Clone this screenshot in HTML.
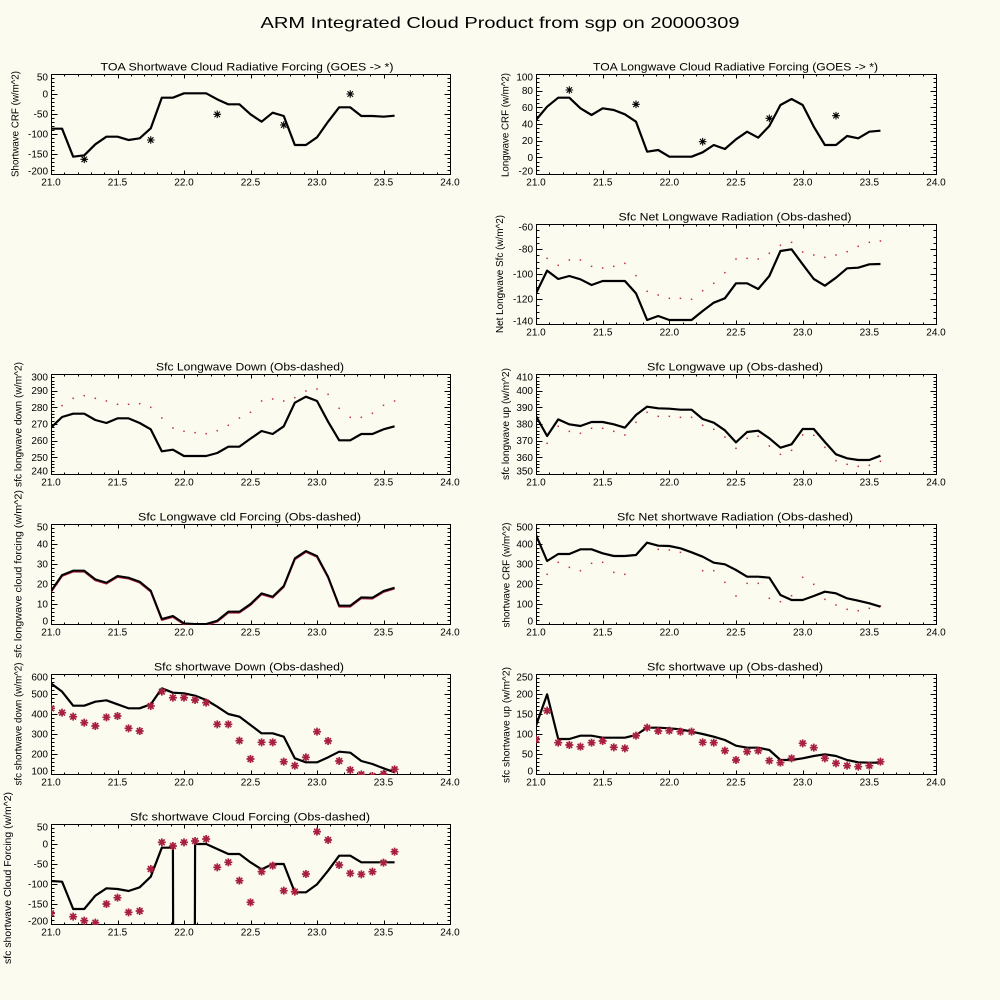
<!DOCTYPE html>
<html><head><meta charset="utf-8">
<style>
html,body{margin:0;padding:0;background:#fbfbf0;width:1000px;height:1000px;overflow:hidden;}
svg{display:block;overflow:hidden;}
text{font-family:"Liberation Sans","DejaVu Sans",sans-serif;fill:#000;}
.t{font-size:11px;text-anchor:middle;}
.xl text{font-size:10px;text-anchor:middle;}
.yl text{font-size:10px;text-anchor:end;}
.yt{font-size:10px;text-anchor:middle;}
</style></head><body>
<svg id="s" width="1000" height="1000" viewBox="0 0 1000 1000" xmlns="http://www.w3.org/2000/svg">
<rect width="1000" height="1000" fill="#fbfbf0"/>
<text x="500" y="28" font-size="16" text-anchor="middle" textLength="479" lengthAdjust="spacingAndGlyphs">ARM Integrated Cloud Product from sgp on 20000309</text>

<!-- panel titles -->
<text class="t" x="247" y="70.5" textLength="293" lengthAdjust="spacingAndGlyphs">TOA Shortwave Cloud Radiative Forcing (GOES -&gt; *)</text>
<text class="t" x="735.5" y="70.5" textLength="285" lengthAdjust="spacingAndGlyphs">TOA Longwave Cloud Radiative Forcing (GOES -&gt; *)</text>
<text class="t" x="735" y="220.5" textLength="233" lengthAdjust="spacingAndGlyphs">Sfc Net Longwave Radiation (Obs-dashed)</text>
<text class="t" x="250" y="370.5" textLength="188" lengthAdjust="spacingAndGlyphs">Sfc Longwave Down (Obs-dashed)</text>
<text class="t" x="735" y="370.5" textLength="176" lengthAdjust="spacingAndGlyphs">Sfc Longwave up (Obs-dashed)</text>
<text class="t" x="249.5" y="520.5" textLength="223" lengthAdjust="spacingAndGlyphs">Sfc Longwave cld Forcing (Obs-dashed)</text>
<text class="t" x="735" y="520.5" textLength="236" lengthAdjust="spacingAndGlyphs">Sfc Net shortwave Radiation (Obs-dashed)</text>
<text class="t" x="249" y="670.5" textLength="190" lengthAdjust="spacingAndGlyphs">Sfc shortwave Down (Obs-dashed)</text>
<text class="t" x="735" y="670.5" textLength="176" lengthAdjust="spacingAndGlyphs">Sfc shortwave up (Obs-dashed)</text>
<text class="t" x="250" y="820.5" textLength="240" lengthAdjust="spacingAndGlyphs">Sfc shortwave Cloud Forcing (Obs-dashed)</text>

<!-- y axis titles -->
<text class="yt" transform="translate(18.5,124) rotate(-90)" textLength="106" lengthAdjust="spacingAndGlyphs">Shortwave CRF (w/m^2)</text>
<text class="yt" transform="translate(508.5,125) rotate(-90)" textLength="104" lengthAdjust="spacingAndGlyphs">Longwave CRF (w/m^2)</text>
<text class="yt" transform="translate(503,274) rotate(-90)" textLength="118" lengthAdjust="spacingAndGlyphs">Net Longwave Sfc (w/m^2)</text>
<text class="yt" transform="translate(21.5,424.5) rotate(-90)" textLength="125" lengthAdjust="spacingAndGlyphs">sfc longwave down (w/m^2)</text>
<text class="yt" transform="translate(509,424) rotate(-90)" textLength="112" lengthAdjust="spacingAndGlyphs">sfc longwave up (w/m^2)</text>
<text class="yt" transform="translate(21.5,574) rotate(-90)" textLength="168" lengthAdjust="spacingAndGlyphs">sfc longwave cloud forcing (w/m^2)</text>
<text class="yt" transform="translate(509.5,575) rotate(-90)" textLength="105" lengthAdjust="spacingAndGlyphs">shortwave CRF (w/m^2)</text>
<text class="yt" transform="translate(21.5,724) rotate(-90)" textLength="123" lengthAdjust="spacingAndGlyphs">sfc shortwave down (w/m^2)</text>
<text class="yt" transform="translate(509.5,725) rotate(-90)" textLength="116" lengthAdjust="spacingAndGlyphs">sfc shortwave up (w/m^2)</text>
<text class="yt" transform="translate(11,878) rotate(-90)" textLength="172" lengthAdjust="spacingAndGlyphs">sfc shortwave Cloud Forcing (w/m^2)</text>

<!-- x tick labels left column -->
<g class="xl">
<text x="51" y="185.5">21.0</text><text x="117.5" y="185.5">21.5</text><text x="184" y="185.5">22.0</text><text x="250.5" y="185.5">22.5</text><text x="317" y="185.5">23.0</text><text x="383.5" y="185.5">23.5</text><text x="450" y="185.5">24.0</text>
</g>
<g class="xl" transform="translate(0,300)">
<text x="51" y="185.5">21.0</text><text x="117.5" y="185.5">21.5</text><text x="184" y="185.5">22.0</text><text x="250.5" y="185.5">22.5</text><text x="317" y="185.5">23.0</text><text x="383.5" y="185.5">23.5</text><text x="450" y="185.5">24.0</text>
</g>
<g class="xl" transform="translate(0,450)">
<text x="51" y="185.5">21.0</text><text x="117.5" y="185.5">21.5</text><text x="184" y="185.5">22.0</text><text x="250.5" y="185.5">22.5</text><text x="317" y="185.5">23.0</text><text x="383.5" y="185.5">23.5</text><text x="450" y="185.5">24.0</text>
</g>
<g class="xl" transform="translate(0,600)">
<text x="51" y="185.5">21.0</text><text x="117.5" y="185.5">21.5</text><text x="184" y="185.5">22.0</text><text x="250.5" y="185.5">22.5</text><text x="317" y="185.5">23.0</text><text x="383.5" y="185.5">23.5</text><text x="450" y="185.5">24.0</text>
</g>
<g class="xl" transform="translate(0,750)">
<text x="51" y="185.5">21.0</text><text x="117.5" y="185.5">21.5</text><text x="184" y="185.5">22.0</text><text x="250.5" y="185.5">22.5</text><text x="317" y="185.5">23.0</text><text x="383.5" y="185.5">23.5</text><text x="450" y="185.5">24.0</text>
</g>
<!-- x tick labels right column -->
<g class="xl">
<text x="536" y="185.5">21.0</text><text x="602.7" y="185.5">21.5</text><text x="669.3" y="185.5">22.0</text><text x="736" y="185.5">22.5</text><text x="802.7" y="185.5">23.0</text><text x="869.3" y="185.5">23.5</text><text x="936" y="185.5">24.0</text>
</g>
<g class="xl" transform="translate(0,150)">
<text x="536" y="185.5">21.0</text><text x="602.7" y="185.5">21.5</text><text x="669.3" y="185.5">22.0</text><text x="736" y="185.5">22.5</text><text x="802.7" y="185.5">23.0</text><text x="869.3" y="185.5">23.5</text><text x="936" y="185.5">24.0</text>
</g>
<g class="xl" transform="translate(0,300)">
<text x="536" y="185.5">21.0</text><text x="602.7" y="185.5">21.5</text><text x="669.3" y="185.5">22.0</text><text x="736" y="185.5">22.5</text><text x="802.7" y="185.5">23.0</text><text x="869.3" y="185.5">23.5</text><text x="936" y="185.5">24.0</text>
</g>
<g class="xl" transform="translate(0,450)">
<text x="536" y="185.5">21.0</text><text x="602.7" y="185.5">21.5</text><text x="669.3" y="185.5">22.0</text><text x="736" y="185.5">22.5</text><text x="802.7" y="185.5">23.0</text><text x="869.3" y="185.5">23.5</text><text x="936" y="185.5">24.0</text>
</g>
<g class="xl" transform="translate(0,600)">
<text x="536" y="185.5">21.0</text><text x="602.7" y="185.5">21.5</text><text x="669.3" y="185.5">22.0</text><text x="736" y="185.5">22.5</text><text x="802.7" y="185.5">23.0</text><text x="869.3" y="185.5">23.5</text><text x="936" y="185.5">24.0</text>
</g>

<!-- y tick labels -->
<g class="yl">
<text x="48" y="80.5">50</text><text x="48" y="97.5">0</text><text x="48" y="117.5">-50</text><text x="48" y="137.5">-100</text><text x="48" y="157.5">-150</text><text x="48" y="174.5">-200</text>
<text x="533" y="80.5">100</text><text x="533" y="94.2">80</text><text x="533" y="110.8">60</text><text x="533" y="127.5">40</text><text x="533" y="144.2">20</text><text x="533" y="160.8">0</text><text x="533" y="174.5">-20</text>
<text x="533" y="230.5">-60</text><text x="533" y="252.5">-80</text><text x="533" y="277.5">-100</text><text x="533" y="302.5">-120</text><text x="533" y="324.5">-140</text>
<text x="48" y="380.5">300</text><text x="48" y="394.2">290</text><text x="48" y="410.8">280</text><text x="48" y="427.5">270</text><text x="48" y="444.2">260</text><text x="48" y="460.8">250</text><text x="48" y="474.5">240</text>
<text x="533" y="380.5">410</text><text x="533" y="394.2">400</text><text x="533" y="410.8">390</text><text x="533" y="427.5">380</text><text x="533" y="444.2">370</text><text x="533" y="460.8">360</text><text x="533" y="474.5">350</text>
<text x="48" y="530.5">50</text><text x="48" y="547.5">40</text><text x="48" y="567.5">30</text><text x="48" y="587.5">20</text><text x="48" y="607.5">10</text><text x="48" y="624.5">0</text>
<text x="533" y="530.5">500</text><text x="533" y="547.5">400</text><text x="533" y="567.5">300</text><text x="533" y="587.5">200</text><text x="533" y="607.5">100</text><text x="533" y="624.5">0</text>
<text x="48" y="680.5">600</text><text x="48" y="697.5">500</text><text x="48" y="717.5">400</text><text x="48" y="737.5">300</text><text x="48" y="757.5">200</text><text x="48" y="774.5">100</text>
<text x="533" y="680.5">250</text><text x="533" y="697.5">200</text><text x="533" y="717.5">150</text><text x="533" y="737.5">100</text><text x="533" y="757.5">50</text><text x="533" y="774.5">0</text>
<text x="48" y="830.5">50</text><text x="48" y="847.5">0</text><text x="48" y="867.5">-50</text><text x="48" y="887.5">-100</text><text x="48" y="907.5">-150</text><text x="48" y="924.5">-200</text>
</g>

<g id="plots"></g>
</svg>
<script>
(function(){
const NS="http://www.w3.org/2000/svg";
const root=document.getElementById('plots');
function el(tag,a,p){const e=document.createElementNS(NS,tag);for(const k in a)e.setAttribute(k,a[k]);(p||root).appendChild(e);return e;}
const L={x0:51,x1:450},R={x0:536,x1:936};
let cid=0;
const defs=el('defs',{});
function frame(c,top,ymin,ymax,major,nm){
  const x0=c.x0,x1=c.x1,y0=top,y1=top+100;
  let d=`M${x0+.5} ${y0+.5}H${x1+.5}V${y1+.5}H${x0+.5}Z`;
  for(let k=0;k<=30;k++){const x=Math.round(x0+(x1-x0)*k/30)+.5;const len=(k%5==0)?4:2;d+=`M${x} ${y1+.5}v${-len}M${x} ${y0+.5}v${len}`;}
  const step=major/nm;const n=Math.round((ymax-ymin)/step);
  for(let k=0;k<=n;k++){const v=ymin+k*step;const y=Math.round(y1-(v-ymin)/(ymax-ymin)*100)+.5;const len=(k%nm==0)?6:3;d+=`M${x0+.5} ${y}h${len}M${x1+.5} ${y}h${-len}`;}
  el('path',{d:d,stroke:'#000','stroke-width':1,fill:'none','shape-rendering':'crispEdges'});
  const id='c'+(cid++);const cp=el('clipPath',{id:id},defs);el('rect',{x:x0,y:y0,width:x1-x0+1,height:101},cp);
  return 'url(#'+id+')';
}
function px(c,i){return c.x0+(c.x1-c.x0)*i/36;}
function polyPts(pts,cl,stroke,w){el('polyline',{points:pts.map(p=>p[0].toFixed(2)+','+p[1].toFixed(2)).join(' '),fill:'none',stroke:stroke,'stroke-width':w,'stroke-linejoin':'round','clip-path':cl});}
function poly(c,oy,zs,cl,stroke,w,dy){const pts=[];zs.forEach((z,i)=>{if(z!=null)pts.push([px(c,i),oy+z/3+(dy||0)]);});polyPts(pts,cl,stroke,w);}
function dots(c,oy,zs,cl){zs.forEach((z,i)=>{if(z==null)return;el('rect',{x:(px(c,i)-0.75).toFixed(2),y:(oy+z/3-0.75).toFixed(2),width:1.5,height:1.5,fill:'#c0304a','clip-path':cl});});}
function stars(c,oy,pts,cl,col,r,w){let d='';const q=r*0.72;pts.forEach(p=>{const i=p[0],z=p[1];if(z==null)return;const x=px(c,i),y=oy+z/3;d+=`M${(x-r).toFixed(2)} ${y.toFixed(2)}h${2*r}M${x.toFixed(2)} ${(y-r).toFixed(2)}v${2*r}M${(x-q).toFixed(2)} ${(y-q).toFixed(2)}l${(2*q).toFixed(2)} ${(2*q).toFixed(2)}M${(x-q).toFixed(2)} ${(y+q).toFixed(2)}l${(2*q).toFixed(2)} ${(-2*q).toFixed(2)}`;});el('path',{d:d,stroke:col,'stroke-width':w,fill:'none','clip-path':cl});}
function idxs(arr){return arr.map((z,i)=>[i,z]);}
const RED='#a8203f';

// Row1 L TOA SW
let cl=frame(L,74,-200,50,50,5);
poly(L,50,[236,236,320,316,283,260,260,270,265,235,143,143,130,130,130,148,163,163,193,215,188,198,285,285,262,215,172,172,198,198,200,197],cl,'#000',2.2);
stars(L,50,[[3,328],[9,270],[15,193],[21,225],[27,132]],cl,'#000',3.8,1.1);

// Row1 R TOA LW
cl=frame(R,74,-20,100,20,4);
poly(R,50,[210,170,143,143,175,195,175,180,193,215,305,300,320,320,320,307,285,297,268,245,263,228,165,147,165,230,285,285,258,265,245,242],cl,'#000',2.2);
stars(R,50,[[3,120],[9,163],[15,275],[21,205],[27,197]],cl,'#000',3.8,1.1);

// Row2 R Net LW
cl=frame(R,224,-140,-60,20,4);
dots(R,205,[null,160,181,165,165,184,189,184,175,212,259,270,280,280,283,257,235,203,162,160,162,145,121,112,141,150,157,150,140,124,112,108],cl);
poly(R,205,[265,197,222,213,223,240,228,228,228,265,345,333,345,345,345,318,293,280,235,235,252,213,138,133,178,222,242,218,190,188,178,177],cl,'#000',2.2);

// Row3 L LW down
cl=frame(L,374,240,300,10,5);
dots(L,355,[172,152,130,122,130,138,148,148,146,157,189,219,229,233,236,227,211,189,172,138,132,138,128,108,102,118,160,187,187,175,151,138],cl);
poly(L,355,[218,186,176,176,195,204,190,190,204,223,289,284,303,303,303,294,275,275,251,228,237,214,143,125,138,200,256,256,237,237,223,214],cl,'#000',2.2);

// Row3 R LW up
cl=frame(R,374,350,410,10,5);
dots(R,355,[null,265,214,229,235,220,220,229,240,202,172,184,184,187,187,211,223,246,280,250,244,273,298,286,240,241,277,317,328,334,331,319],cl);
poly(R,355,[183,243,193,208,213,201,201,208,218,180,155,160,161,164,164,192,203,226,262,231,227,250,278,268,222,222,261,298,310,315,315,302],cl,'#000',2.2);

// Row4 L LW cld forcing
cl=frame(L,524,0,50,10,5);
const lwc=[258,210,197,197,223,233,213,218,230,257,342,333,355,357,357,347,320,320,297,265,275,243,160,138,153,215,302,302,277,278,258,248];
poly(L,505,lwc,cl,RED,2,0.9);
poly(L,505,lwc,cl,'#000',2);

// Row4 R Net SW
cl=frame(R,524,0,500,100,5);
dots(R,505,[null,208,172,187,197,175,172,202,208,null,null,133,135,142,null,197,197,232,273,235,235,280,290,272,217,238,283,300,313,317,310,303],cl);
poly(R,505,[90,168,147,147,133,133,145,153,153,150,113,122,123,130,142,155,173,178,195,215,215,218,270,285,285,273,260,265,280,287,295,305],cl,'#000',2.2);

// Row5 L SW down
cl=frame(L,674,100,600,100,5);
poly(L,655,[85,110,152,152,140,136,148,160,160,148,100,113,115,122,135,155,177,185,210,235,235,245,310,322,322,307,290,293,318,327,340,352],cl,'#000',2.2);
stars(L,655,idxs([160,173,185,203,213,187,183,220,228,153,110,128,128,135,143,208,208,257,312,262,262,320,332,307,230,258,318,345,358,363,357,343]),cl,RED,4,1.7);

// Row5 R SW up
cl=frame(R,674,0,250,50,5);
poly(R,655,[212,118,252,252,242,242,248,248,248,240,218,218,220,223,230,237,245,255,272,278,278,285,315,315,310,303,298,303,315,322,323,323],cl,'#000',2.2);
stars(R,655,idxs([253,167,263,270,275,263,258,277,280,242,218,228,227,230,230,262,263,287,315,290,287,317,323,310,265,278,310,325,332,335,332,320]),cl,RED,4,1.7);

// Row6 L SW cloud forcing (value at 22.0 is off-scale -> vertical drops)
cl=frame(L,824,-200,50,50,5);
const sw6=[228,230,312,312,272,250,252,258,247,215,128,128];
const p1=sw6.map((z,i)=>[px(L,i),805+z/3]);
p1.push([px(L,11)+0.2,926]);
polyPts(p1,cl,'#000',2.2);
const sw6b=[117,117,132,147,147,172,193,177,177,262,262,238,197,152,152,172,172,172,172];
const p2=[[px(L,13)-0.2,926]].concat(sw6b.map((z,k)=>[px(L,13+k),805+z/3]));
polyPts(p2,cl,'#000',2.2);
stars(L,805,idxs([325,null,335,347,353,297,278,322,318,192,112,123,112,108,102,187,172,227,292,200,182,257,260,207,80,105,180,205,208,200,173,140]),cl,RED,4,1.7);
})();
</script>
</body></html>
